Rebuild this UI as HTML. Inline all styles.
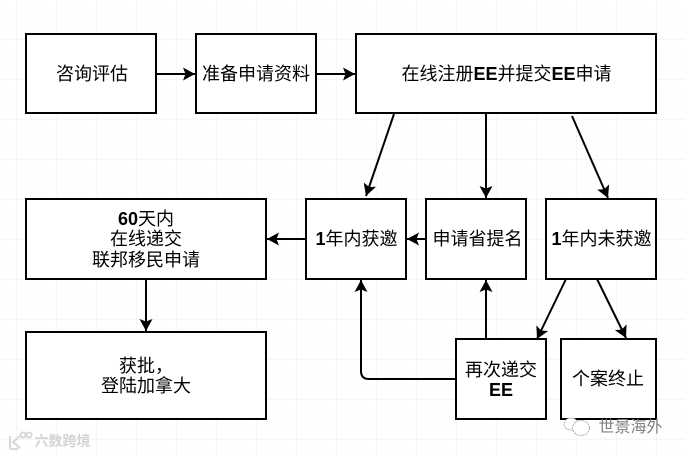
<!DOCTYPE html>
<html>
<head>
<meta charset="utf-8">
<style>
html,body{margin:0;padding:0;background:#fff;}
body{width:685px;height:455px;overflow:hidden;}
svg{display:block;}
.t{font-family:"Liberation Sans","Noto Sans CJK SC",sans-serif;font-size:18px;fill:#000;text-anchor:middle;}
.b{font-weight:bold;}
</style>
</head>
<body>
<svg width="685" height="455" viewBox="0 0 685 455" xmlns="http://www.w3.org/2000/svg">
<defs>
<pattern id="minor" width="10" height="10" x="6.5" y="-1.5" patternUnits="userSpaceOnUse">
<path d="M0 0V10M0 0H10" stroke="#f9f9f9" stroke-width="1" fill="none"/>
</pattern>
<pattern id="major" width="40" height="40" x="16.5" y="39.5" patternUnits="userSpaceOnUse">
<path d="M0 0V40M0 0H40" stroke="#eeeeee" stroke-width="1" fill="none"/>
</pattern>
<marker id="a" markerWidth="14" markerHeight="14" refX="12" refY="6.5" orient="auto" markerUnits="userSpaceOnUse">
<path d="M0 0L12 6.5L0 13L2.5 6.5Z" fill="#000"/>
</marker>
</defs>
<rect width="685" height="455" fill="#fff"/>
<rect width="685" height="455" fill="url(#minor)"/>
<rect width="685" height="455" fill="url(#major)"/>

<g fill="#fff" stroke="#000" stroke-width="2">
<rect x="26" y="34" width="130" height="79"/>
<rect x="196" y="34" width="120" height="79"/>
<rect x="356" y="34" width="300" height="79"/>
<rect x="26" y="199" width="240" height="80"/>
<rect x="306" y="199" width="100" height="80"/>
<rect x="426" y="199" width="100" height="80"/>
<rect x="546" y="199" width="110" height="80"/>
<rect x="26" y="332" width="240" height="87"/>
<rect x="456" y="339" width="90" height="80"/>
<rect x="561" y="339" width="95" height="80"/>
</g>

<g fill="none" stroke="#000" stroke-width="2" marker-end="url(#a)">
<path d="M156 74H195"/>
<path d="M316 74H355"/>
<path d="M394 114L366 196"/>
<path d="M486 114V198"/>
<path d="M572 116L608 198"/>
<path d="M306 239H267"/>
<path d="M426 239H407"/>
<path d="M146 279V331"/>
<path d="M486 339V280"/>
<path d="M456 379H369Q361 379 361 371V280"/>
<path d="M566 279L537 339"/>
<path d="M597 279L626 338"/>
</g>

<text class="t" x="92" y="80">咨询评估</text>
<text class="t" x="256" y="80">准备申请资料</text>
<text class="t" x="506.5" y="80">在线注册<tspan class="b">EE</tspan>并提交<tspan class="b">EE</tspan>申请</text>
<text class="t" x="146" y="225"><tspan class="b">60</tspan>天内</text>
<text class="t" x="146" y="245">在线递交</text>
<text class="t" x="146" y="266">联邦移民申请</text>
<text class="t" x="356.5" y="245"><tspan class="b">1</tspan>年内获邀</text>
<text class="t" x="477.5" y="245">申请省提名</text>
<text class="t" x="601.5" y="245"><tspan class="b">1</tspan>年内未获邀</text>
<text class="t" x="146" y="372">获批，</text>
<text class="t" x="146" y="392">登陆加拿大</text>
<text class="t" x="501" y="376">再次递交</text>
<text class="t b" x="501" y="396">EE</text>
<text class="t" x="608" y="385">个案终止</text>

<g fill="none" stroke="#d8d8d8" stroke-width="2">
<path d="M10 436V447Q10 449 12 449H18"/>
<path d="M20 436L13 442L20 448"/>
<circle cx="23" cy="435" r="2.5"/>
<circle cx="29" cy="435" r="2.5"/>
</g>
<text x="62.5" y="446" style="font-family:'Liberation Sans','Noto Sans CJK SC',sans-serif;font-size:14px;text-anchor:middle;fill:#d4d4d4;font-weight:bold">六数跨境</text>

<g fill="#fff" stroke="#aaa" stroke-width="1" stroke-dasharray="2 1">
<ellipse cx="571" cy="424" rx="7" ry="6"/>
<ellipse cx="581" cy="428" rx="8.5" ry="7.5"/>
</g>
<text x="630.5" y="432" style="font-family:'Liberation Sans','Noto Sans CJK SC',sans-serif;font-size:16px;text-anchor:middle;fill:#808080">世景海外</text>
</svg>
</body>
</html>
